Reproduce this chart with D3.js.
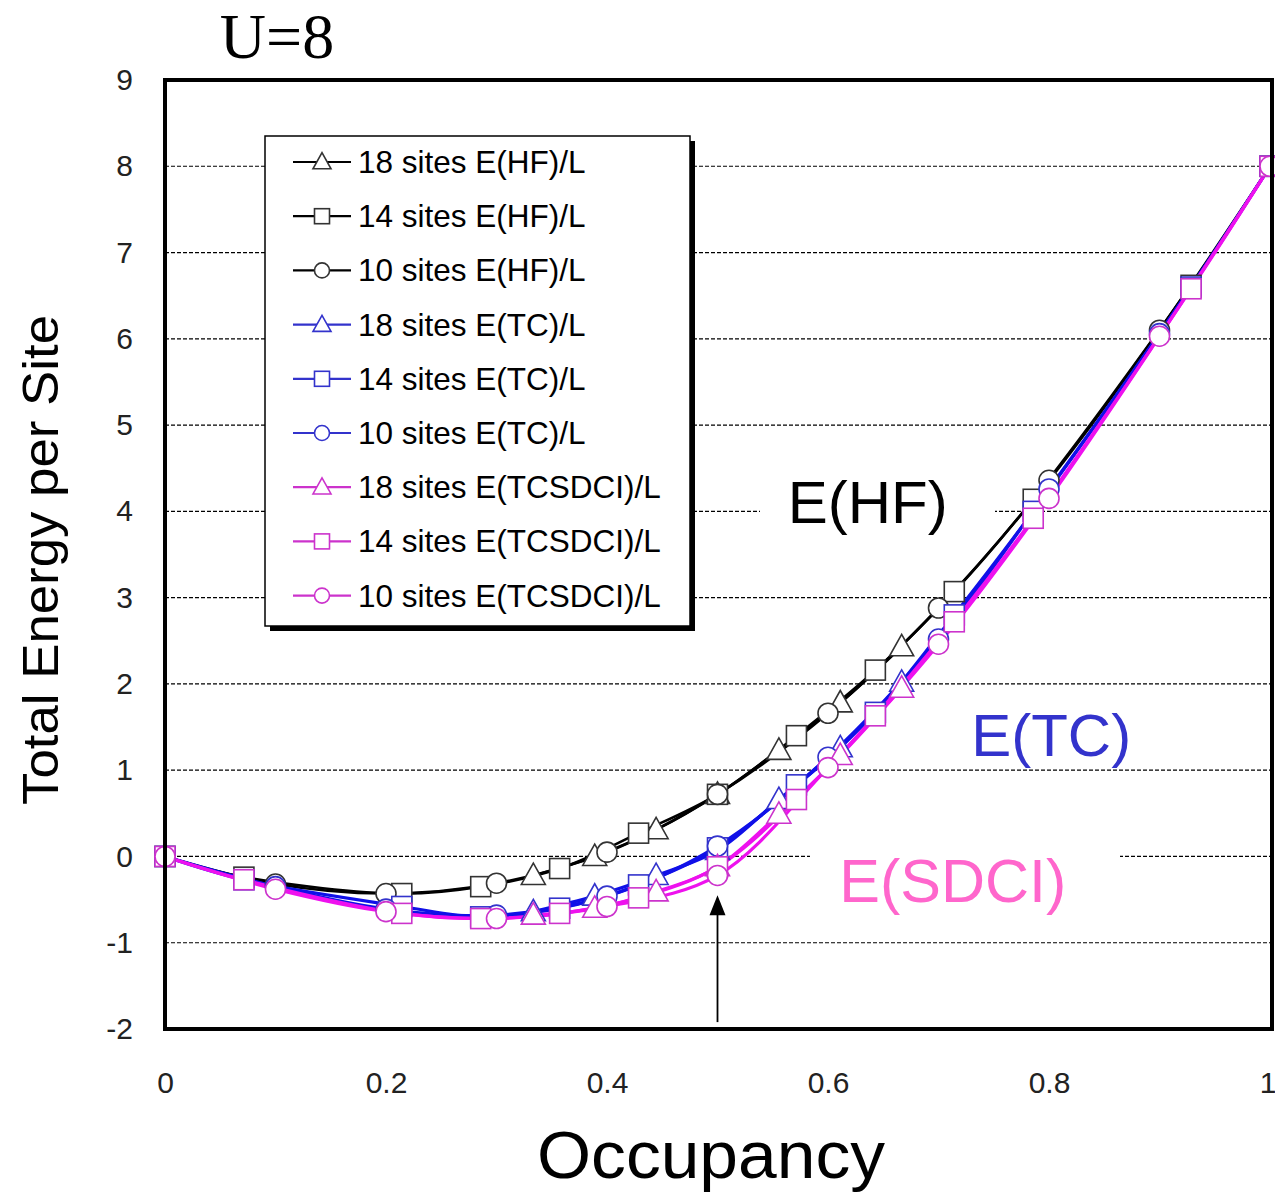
<!DOCTYPE html>
<html>
<head>
<meta charset="utf-8">
<script src="https://cdn.jsdelivr.net/npm/d3@7"></script>
<style>
body { margin: 0; background: #fff; }
text { font-family: "Liberation Sans", Arial, sans-serif; }
</style>
</head>
<body>
<div id="chart"></div>
<script>
// occupancy grids for the three cluster sizes
var occ10 = [0, 0.1, 0.2, 0.3, 0.4, 0.5, 0.6, 0.7, 0.8, 0.9, 1.0];
var occ14 = [0, 1/14, 3/14, 4/14, 5/14, 6/14, 7/14, 8/14, 9/14, 10/14, 11/14, 13/14, 1.0];
var occ18 = [6/18, 7/18, 8/18, 9/18, 10/18, 11/18, 12/18];

// energies per site
var hf10 = [0, -0.32, -0.43, -0.31, 0.05, 0.72, 1.66, 2.88, 4.36, 6.10, 8.0];
var hf14 = [0, -0.24, -0.43, -0.35, -0.14, 0.27, 0.72, 1.40, 2.16, 3.07, 4.14, 6.62, 8.0];
var hf18 = [-0.22, 0.0, 0.31, 0.72, 1.23, 1.78, 2.43];

var tc10 = [0, -0.35, -0.61, -0.68, -0.46, 0.12, 1.15, 2.52, 4.26, 6.06, 8.0];
var tc14 = [0, -0.27, -0.58, -0.70, -0.60, -0.33, 0.10, 0.83, 1.67, 2.80, 4.00, 6.60, 8.0];
var tc18 = [-0.64, -0.46, -0.22, 0.07, 0.66, 1.26, 2.02];

var sd10 = [0, -0.38, -0.64, -0.72, -0.58, -0.22, 1.03, 2.46, 4.15, 6.03, 8.0];
var sd14 = [0, -0.27, -0.66, -0.72, -0.66, -0.48, -0.12, 0.66, 1.63, 2.72, 3.92, 6.58, 8.0];
var sd18 = [-0.68, -0.60, -0.41, -0.12, 0.49, 1.17, 1.95];

var yTicks = [-2, -1, 0, 1, 2, 3, 4, 5, 6, 7, 8, 9];
var xTicks = [0, 0.2, 0.4, 0.6, 0.8, 1];

var series = [
    {name: "18 sites E(HF)/L", x: occ18, y: hf18, color: "#000000", mark: "#333333", sym: "tri"},
    {name: "14 sites E(HF)/L", x: occ14, y: hf14, color: "#000000", mark: "#333333", sym: "sq"},
    {name: "10 sites E(HF)/L", x: occ10, y: hf10, color: "#000000", mark: "#333333", sym: "circ"},
    {name: "18 sites E(TC)/L", x: occ18, y: tc18, color: "#1010e8", mark: "#3333cc", sym: "tri"},
    {name: "14 sites E(TC)/L", x: occ14, y: tc14, color: "#1010e8", mark: "#3333cc", sym: "sq"},
    {name: "10 sites E(TC)/L", x: occ10, y: tc10, color: "#1010e8", mark: "#3333cc", sym: "circ"},
    {name: "18 sites E(TCSDCI)/L", x: occ18, y: sd18, color: "#ee11ee", mark: "#cc33cc", sym: "tri"},
    {name: "14 sites E(TCSDCI)/L", x: occ14, y: sd14, color: "#ee11ee", mark: "#cc33cc", sym: "sq"},
    {name: "10 sites E(TCSDCI)/L", x: occ10, y: sd10, color: "#ee11ee", mark: "#cc33cc", sym: "circ"}
];

var W = 1275, H = 1195;
var margin = {top: 80, right: 3, bottom: 166, left: 165};
var width = W - margin.left - margin.right;
var height = H - margin.top - margin.bottom;

var svg = d3.select("#chart").append("svg")
    .attr("width", W)
    .attr("height", H);

var g = svg.append("g")
    .attr("transform", "translate(" + margin.left + "," + margin.top + ")");

var xscale = d3.scaleLinear().domain([0, 1]).range([0, width - 2]);
var yscale = d3.scaleLinear().domain([-2, 9]).range([height, 0]);

// dashed gridlines
g.selectAll(".grid")
    .data(yTicks.filter(function (d) { return d > -2 && d < 9; }))
    .enter().append("line")
    .attr("x1", 0).attr("x2", width)
    .attr("y1", function (d) { return yscale(d); })
    .attr("y2", function (d) { return yscale(d); })
    .attr("stroke", "#000")
    .attr("stroke-width", 1.2)
    .attr("stroke-dasharray", "4,2");

// white boxes behind the curve labels (they break the grid)
g.append("rect").attr("x", 595).attr("y", yscale(4) - 40).attr("width", 235).attr("height", 80).attr("fill", "#fff");
g.append("rect").attr("x", 645).attr("y", yscale(0) - 35).attr("width", 310).attr("height", 70).attr("fill", "#fff");

// axes, tick labels only
var yaxis = d3.axisLeft(yscale).tickValues(yTicks).tickSize(0).tickPadding(32)
    .tickFormat(function (d) { return String(d); });
g.append("g").call(yaxis)
    .call(function (s) { s.select(".domain").remove(); })
    .selectAll("text")
    .attr("font-size", 30)
    .attr("font-family", "Liberation Sans, Arial, sans-serif")
    .attr("fill", "#222");

var xaxis = d3.axisBottom(xscale).tickValues(xTicks).tickSize(0).tickPadding(43)
    .tickFormat(function (d) { return d === 0 || d === 1 ? String(d) : d3.format(".1f")(d); });
g.append("g").attr("transform", "translate(0," + height + ")").call(xaxis)
    .call(function (s) { s.select(".domain").remove(); })
    .selectAll("text")
    .attr("font-size", 30)
    .attr("font-family", "Liberation Sans, Arial, sans-serif")
    .attr("fill", "#222")
    .attr("text-anchor", function (d) { return d === 1 ? "end" : "middle"; })
    .attr("dx", function (d) { return d === 1 ? 6 : 0; });

// curves
var line = d3.line()
    .x(function (d) { return xscale(d[0]); })
    .y(function (d) { return yscale(d[1]); })
    .curve(d3.curveCatmullRom.alpha(0.5));

function drawMarker(sel, sym, color, cx, cy, s) {
    if (sym === "tri") {
        sel.append("path")
            .attr("d", "M" + cx + "," + (cy - s * 0.62) + "L" + (cx + s * 0.6) + "," + (cy + s * 0.45) +
                "L" + (cx - s * 0.6) + "," + (cy + s * 0.45) + "Z")
            .attr("fill", "#fff").attr("stroke", color).attr("stroke-width", 1.6);
    } else if (sym === "sq") {
        sel.append("rect")
            .attr("x", cx - s / 2).attr("y", cy - s / 2).attr("width", s).attr("height", s)
            .attr("fill", "#fff").attr("stroke", color).attr("stroke-width", 1.6);
    } else {
        sel.append("circle")
            .attr("cx", cx).attr("cy", cy).attr("r", s / 2)
            .attr("fill", "#fff").attr("stroke", color).attr("stroke-width", 1.6);
    }
}

series.forEach(function (s) {
    var pts = s.x.map(function (x, i) { return [x, s.y[i]]; });
    g.append("path")
        .datum(pts)
        .attr("d", line)
        .attr("fill", "none")
        .attr("stroke", s.color)
        .attr("stroke-width", s.color === "#000000" ? 2.6 : 3.2);
});

series.forEach(function (s) {
    var mg = g.append("g");
    s.x.forEach(function (x, i) {
        drawMarker(mg, s.sym, s.mark, xscale(x), yscale(s.y[i]), 20);
    });
});

// frame
g.append("rect")
    .attr("x", 0).attr("y", 0).attr("width", width).attr("height", height)
    .attr("fill", "none").attr("stroke", "#000").attr("stroke-width", 4);

// arrow at half filling
g.append("line")
    .attr("x1", xscale(0.5)).attr("x2", xscale(0.5))
    .attr("y1", yscale(-1.92)).attr("y2", yscale(-0.65))
    .attr("stroke", "#000").attr("stroke-width", 1.8);
g.append("path")
    .attr("d", "M" + xscale(0.5) + "," + yscale(-0.45) + "l-8,20l16,0Z")
    .attr("fill", "#000");

// curve labels
g.append("text").attr("x", xscale(0.636)).attr("y", yscale(4) + 12)
    .attr("text-anchor", "middle").attr("font-size", 60).attr("fill", "#000").text("E(HF)");
g.append("text").attr("x", xscale(0.802)).attr("y", yscale(1.28) + 10)
    .attr("text-anchor", "middle").attr("font-size", 60).attr("fill", "#3333cc").text("E(TC)");
g.append("text").attr("x", xscale(0.713)).attr("y", yscale(-0.3) + 20)
    .attr("text-anchor", "middle").attr("font-size", 61).attr("fill", "#ff66cc").text("E(SDCI)");

// legend
var lg = g.append("g").attr("transform", "translate(100,56)");
lg.append("rect").attr("x", 5).attr("y", 5).attr("width", 425).attr("height", 490).attr("fill", "#000");
lg.append("rect").attr("x", 0).attr("y", 0).attr("width", 425).attr("height", 490)
    .attr("fill", "#fff").attr("stroke", "#000").attr("stroke-width", 1.5);
series.forEach(function (s, i) {
    var yy = 26 + i * 54.2;
    lg.append("line").attr("x1", 28).attr("x2", 86).attr("y1", yy).attr("y2", yy)
        .attr("stroke", s.color === "#000000" ? "#000" : s.mark).attr("stroke-width", 2.2);
    drawMarker(lg, s.sym, s.mark, 57, yy, 15);
    lg.append("text").attr("x", 93).attr("y", yy + 11)
        .attr("font-size", 31.5).attr("fill", "#000").text(s.name);
});

// titles
svg.append("text")
    .attr("transform", "translate(58,560) rotate(-90)")
    .attr("text-anchor", "middle").attr("font-size", 50).attr("fill", "#000")
    .attr("textLength", 490).attr("lengthAdjust", "spacingAndGlyphs")
    .text("Total Energy per Site");
svg.append("text")
    .attr("x", 711).attr("y", 1178)
    .attr("text-anchor", "middle").attr("font-size", 66).attr("fill", "#000")
    .attr("textLength", 348).attr("lengthAdjust", "spacingAndGlyphs")
    .text("Occupancy");
svg.append("text")
    .attr("x", 277).attr("y", 58)
    .attr("text-anchor", "middle").attr("font-size", 64).attr("fill", "#000")
    .style("font-family", "Liberation Serif, serif")
    .text("U=8");
</script>
</body>
</html>
